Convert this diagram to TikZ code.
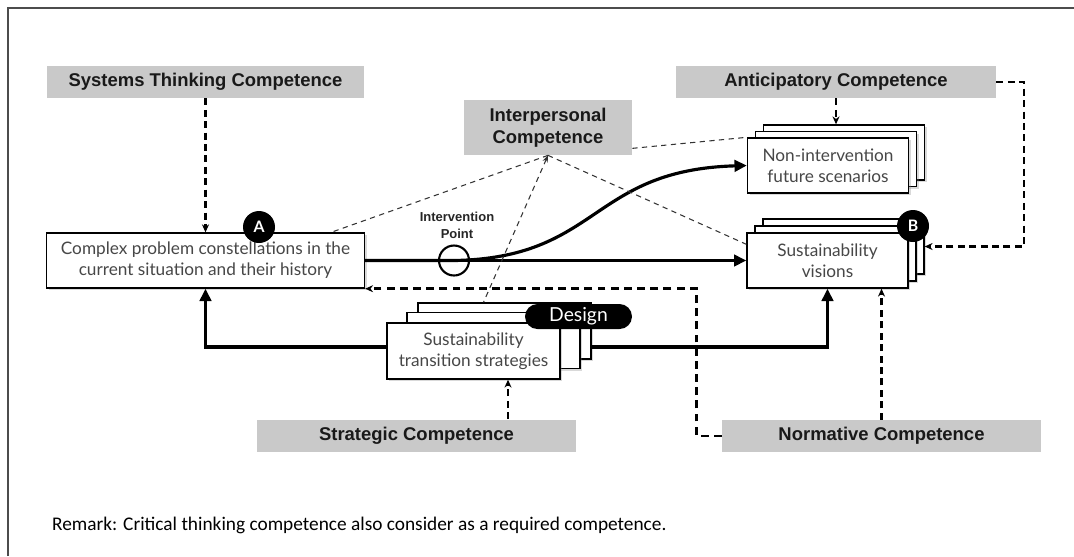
\documentclass[tikz,border=0pt]{standalone}
\usepackage{fontspec}
\setmainfont{Lato}
\newfontfamily\labelfont{Liberation Sans}
\newfontfamily\remarkfont{Carlito}
\usetikzlibrary{arrows.meta,shadows,calc,positioning}

\tikzset{
  comp/.style={fill=black!21, text=black!90, font=\labelfont\bfseries\fontsize{10.5}{12.5}\selectfont, minimum height=0.64cm, align=center, inner sep=0pt},
  card/.style={draw=black, line width=0.8pt, fill=white, text=black!72, font=\fontsize{9.8}{12}\selectfont, align=center, minimum width=3.22cm, minimum height=1.1cm, inner sep=0pt, drop shadow={shadow xshift=1.4pt, shadow yshift=-1.4pt, opacity=0.3}},
  marker/.style={circle, fill=black, text=white, font=\bfseries\fontsize{9}{10}\selectfont, minimum size=0.64cm, inner sep=0pt},
  flow/.style={line width=1.8pt, -{Triangle[length=7pt,width=6.5pt]}},
  link/.style={line width=1.2pt, dash pattern=on 4pt off 2.5pt, -{Stealth[length=4.5pt,width=4pt]}},
  relate/.style={line width=0.6pt, black!80, dash pattern=on 3pt off 2.5pt},
}

\begin{document}
\begin{tikzpicture}[x=0.02cm, y=-0.02cm]
\useasboundingbox (0,0) rectangle (1074,556);
% frame
\draw[black!70, line width=0.6pt] (8,556) -- (8,8) -- (1074,8);

% competences
\node[comp, minimum width=6.36cm] (sys) at (205.5,82) {Systems Thinking Competence};
\node[comp, minimum width=3.36cm, minimum height=1.1cm] (ip) at (548,127.5) {Interpersonal\\Competence};
\node[comp, minimum width=6.4cm] (an) at (836,82) {Anticipatory Competence};
\node[comp, minimum width=6.38cm] (st) at (416.5,436) {Strategic Competence};
\node[comp, minimum width=6.38cm] (no) at (881.5,436) {Normative Competence};

% stacked cards
\foreach \k in {2,1} {
  \node[card] (ni\k) at (828+8*\k,165.5-6.5*\k) {};
  \node[card] (vi\k) at (827.5+8*\k,260.5-7*\k) {};
}
\node[card] (ni) at (828,165.5) {Non-intervention\\future scenarios};
\node[card] (vi) at (827.5,260.5) {Sustainability\\visions};
\node[card, minimum width=6.36cm] (cx) at (205.5,260.5) {Complex problem constellations in the\\current situation and their history};
\foreach \k/\dx/\dy in {2/31/-20,1/20/-10.5}
  \node[card, minimum width=3.46cm, minimum height=1.12cm] (tf\k) at (473.5+\dx,351+\dy) {};
\node[card, minimum width=3.46cm, minimum height=1.12cm] (tf) at (473.5,351) {Sustainability\\transition strategies};
\node[fill=black, text=white, rounded corners=0.25cm, minimum width=2.14cm, minimum height=0.5cm, inner sep=0pt, font=\fontsize{11}{12}\selectfont] (design) at (578.5,316.5) {Design};

\node[marker] (A) at (259,227) {A};
\node[marker] (B) at (913,226) {B};

% intervention point
\node[circle, draw, line width=1.2pt, minimum size=0.6cm, inner sep=0pt] (pt) at (454,260.5) {};
\node[font=\labelfont\bfseries\fontsize{7.4}{9.6}\selectfont, align=center, text=black!85] (ptlab) at (457,225.5) {Intervention\\Point};

% main flows
\draw[flow] (cx.east) -- (vi.west);
\draw[flow] (cx.east) -- (pt.center) .. controls (600,258) and (590,170) .. (ni.west);
\draw[flow] ($(tf.west)+(0,-4)$) -| (cx.south);
\draw[flow] ($(tf.west -| tf2.east)+(0,-4)$) -| (vi.south);

% competence links
\draw[link] (sys.south) -- (cx.north);
\draw[link] (an.south) -- (an.south |- ni2.north);
\draw[link] (an.east) -- ++(27.6,0) |- (vi2.east);
\draw[link] (no.north) -- (no.north |- vi.south);
\coordinate (sx) at (508,419);
\draw[link] (sx) -- (sx |- tf.south);
\draw[link, line width=1.4pt, dash pattern=on 4.5pt off 3pt] (no.west) -- ++(-25,0) |- (cx.south east);

% interpersonal
\draw[relate] (ip.south) -- ($(cx.north east)+(-34,0)$);
\draw[relate] ($(ip.south east)+(0,-7)$) -- (ni.north west);
\draw[relate] (ip.south) -- ($(vi.north west)+(0,12)$);
\draw[relate, {Stealth[length=4pt]}-] (ip.south) -- ($(tf2.north)+(-21,0)$);

\node[anchor=west, font=\remarkfont\fontsize{11}{13}\selectfont] (remark) at (46,525) {Remark: Critical thinking competence also consider as a required competence.};
\end{tikzpicture}
\end{document}
